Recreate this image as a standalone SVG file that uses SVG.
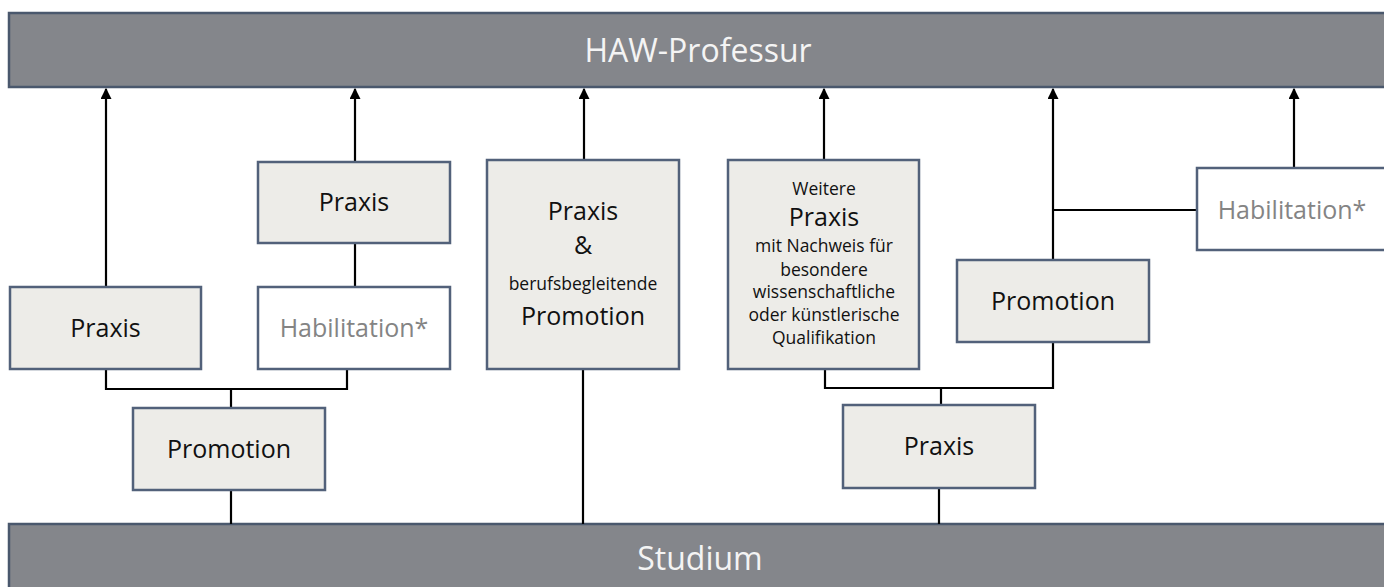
<svg xmlns="http://www.w3.org/2000/svg" width="1384" height="587" viewBox="0 0 1384 587">
<style>
.bar{fill:#84868b;stroke:#4a586d;stroke-width:2.5}
.box{fill:#edece8;stroke:#52617a;stroke-width:2.5}
.wbox{fill:#ffffff;stroke:#52617a;stroke-width:2.5}
.t{font-family:"Open Sans","Noto Sans",sans-serif;text-anchor:middle;fill:#111}
.big{font-size:25px}
.sm{font-size:17.5px}
.bt{font-family:"Open Sans","Noto Sans",sans-serif;text-anchor:middle;fill:#f4f4f4;font-size:32px}
.gray{fill:#848484}
.c{fill:none;stroke:#000;stroke-width:2.2}
</style>
<defs>
<marker id="ah" viewBox="0 0 10 10" refX="9" refY="5" markerWidth="5" markerHeight="5" orient="auto" markerUnits="strokeWidth">
<path d="M0,0 L10,5 L0,10 z" fill="#000"/>
</marker>
</defs>
<g id="haw-professur">
<rect class="bar" x="9" y="13" width="1390" height="74"/>
<text class="bt" x="698" y="62">HAW-Professur</text>
</g>
<g id="studium">
<rect class="bar" x="9" y="524" width="1390" height="80"/>
<text class="bt" x="700" y="570">Studium</text>
</g>
<g id="connectors">
<path class="c" d="M106,287 V89" marker-end="url(#ah)"/>
<path class="c" d="M355,162 V89" marker-end="url(#ah)"/>
<path class="c" d="M355,243 V287"/>
<path class="c" d="M106,369 V389 H347 V369"/>
<path class="c" d="M231,389 V408"/>
<path class="c" d="M231,490 V524"/>
<path class="c" d="M584,160 V89" marker-end="url(#ah)"/>
<path class="c" d="M583,369 V524"/>
<path class="c" d="M824,160 V89" marker-end="url(#ah)"/>
<path class="c" d="M825,369 V388 H1053 V342"/>
<path class="c" d="M941,388 V405"/>
<path class="c" d="M939,488 V524"/>
<path class="c" d="M1053,260 V89" marker-end="url(#ah)"/>
<path class="c" d="M1053,210 H1197"/>
<path class="c" d="M1294,168 V89" marker-end="url(#ah)"/>
</g>
<g id="praxis-1">
<rect class="box" x="10" y="287" width="191" height="82"/>
<text class="t big" x="105.5" y="337">Praxis</text>
</g>
<g id="habilitation-1">
<rect class="wbox" x="258" y="287" width="192" height="82"/>
<text class="t big gray" x="354" y="337">Habilitation*</text>
</g>
<g id="praxis-2">
<rect class="box" x="258" y="162" width="192" height="81"/>
<text class="t big" x="354" y="211">Praxis</text>
</g>
<g id="promotion-1">
<rect class="box" x="133" y="408" width="192" height="82"/>
<text class="t big" x="229" y="458">Promotion</text>
</g>
<g id="praxis-promotion">
<rect class="box" x="487" y="160" width="192" height="209"/>
<text class="t big" x="583" y="220">Praxis</text>
<text class="t big" x="583" y="254">&amp;</text>
<text class="t sm" x="583" y="290">berufsbegleitende</text>
<text class="t big" x="583" y="325">Promotion</text>
</g>
<g id="weitere-praxis">
<rect class="box" x="728" y="160" width="191" height="209"/>
<text class="t sm" x="824" y="195">Weitere</text>
<text class="t big" x="824" y="226">Praxis</text>
<text class="t sm" x="824" y="252">mit Nachweis für</text>
<text class="t sm" x="824" y="276">besondere</text>
<text class="t sm" x="824" y="298">wissenschaftliche</text>
<text class="t sm" x="824" y="321">oder künstlerische</text>
<text class="t sm" x="824" y="344">Qualifikation</text>
</g>
<g id="promotion-2">
<rect class="box" x="957" y="260" width="192" height="82"/>
<text class="t big" x="1053" y="310">Promotion</text>
</g>
<g id="habilitation-2">
<rect class="wbox" x="1197" y="168" width="192" height="82"/>
<text class="t big gray" x="1292" y="219">Habilitation*</text>
</g>
<g id="praxis-3">
<rect class="box" x="843" y="405" width="192" height="83"/>
<text class="t big" x="939" y="455">Praxis</text>
</g>
</svg>
